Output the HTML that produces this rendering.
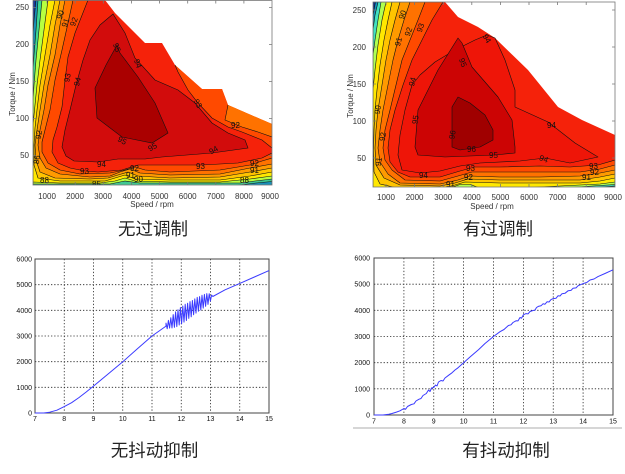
<!DOCTYPE html>
<html><head><meta charset="utf-8"><style>
html,body{margin:0;padding:0;background:#fff;}
body{width:625px;height:474px;overflow:hidden;}
svg{display:block;}
</style></head><body>
<svg width="625" height="474" viewBox="0 0 625 474" xmlns="http://www.w3.org/2000/svg" font-family="'Liberation Sans', sans-serif">
<rect width="625" height="474" fill="#fff"/>
<defs>
<clipPath id="cTL"><rect x="33" y="0" width="239" height="185"/></clipPath>
<clipPath id="cTR"><rect x="373" y="2" width="242" height="185"/></clipPath>
</defs>

<!-- ================= TOP LEFT CONTOUR ================= -->
<g clip-path="url(#cTL)">
<polygon fill="#f5220a" points="33,0 105,0 115,13 145,43 162,43 175,65 202,89 222,89 228,105 258,118 272,124 272,185 33,185"/>
<g stroke="#111" stroke-width="0.6" stroke-linejoin="round">
<polygon fill="#ff4a00" points="33,0 88,0 75,33 68,57 65,80 62,107 57,127 53,140 52,152 58,163 70,168 85,171 98,172 122,170 138,165 165,165 202,165 238,163 262,158 272,153 272,186 33,186 33,0"/>
<polygon fill="#ff7200" points="33,0 73,0 68,23 62,50 55,80 50,110 45,130 42,142 42,152 48,163 60,170 80,174 110,173 125,170 135,167 145,170 170,172 220,170 250,165 262,161 272,158 272,186 33,186"/>
<polygon fill="#ff9a00" points="33,0 65,0 60,25 55,55 48,85 44,110 40,130 38,145 40,158 46,168 60,174 90,177 110,176 120,172 130,169 140,173 170,175 220,174 250,168 272,164 272,186 33,186"/>
<polygon fill="#ffc400" points="33,0 60,0 55,25 50,55 44,85 40,110 37,130 35,145 36,160 40,172 55,178 90,179 108,178 118,175 128,172 138,176 170,178 220,177 250,172 272,168 272,186 33,186"/>
<polygon fill="#ffe800" points="33,0 55,0 50,25 45,55 40,85 37,110 35,128 34,145 34,165 38,178 60,181 105,181 115,178 125,175 135,179 170,180 220,180 250,176 272,172 272,186 33,186"/>
<polygon fill="#b8ff40" points="33,0 48,0 44,30 40,60 37,85 35,105 33,125"/>
<polygon fill="#b8ff40" points="33,186 33,182 60,183 100,183 115,181 125,178 135,181 170,182 220,182 250,179 272,176 272,186"/>
<polygon fill="#40d890" points="33,0 42,0 39,30 36,60 34,85 33,100"/>
<polygon fill="#40c890" points="33,186 33,184 110,184 125,181 140,183 240,183 255,181 272,179 272,186"/>
<polygon fill="#1890b8" points="33,0 38,0 36,30 34,55 33,70"/>
<polygon fill="#1890b8" points="232,186 244,184.5 256,183 272,181.5 272,186"/>
<polygon fill="#1838a0" points="33,0 36,0 34,20 33,35"/>
</g>
<polygon fill="#ff4a00" points="175,65 202,89 222,89 228,105 258,118 272,124 272,148 262,140 242,132 228,127 212,118 198,103 188,90 178,72"/>
<polygon fill="#ff7200" points="228,105 258,118 272,124 272,137 258,132 242,127 225,120"/>
<polyline fill="none" stroke="#111" stroke-width="0.6" points="175,65 178,72 188,90 198,103 212,118 228,127 242,132 262,140 272,148"/>
<polyline fill="none" stroke="#111" stroke-width="0.6" points="228,105 225,120 242,127 258,132 272,137"/>
<polygon fill="#d20c0c" stroke="#111" stroke-width="0.6" points="113,14 100,25 90,40 83,60 76,85 70,110 65,130 62,147 66,156 74,161 98,162 118,159 145,159 162,157 212,153 248,148 245,140 228,133 212,123 195,103 178,90 155,80 135,58 125,33"/>
<polygon fill="#aa0000" stroke="#111" stroke-width="0.6" points="117,45 106,65 95,88 97,118 122,137 152,143 168,133 155,103 138,77 120,53"/>
<g font-size="8" fill="#111">
<text x="56" y="18" transform="rotate(-70 60 15)">90</text>
<text x="61" y="26" transform="rotate(-70 65 23)">91</text>
<text x="70" y="26" transform="rotate(-70 73 23)">92</text>
<text x="63" y="81" transform="rotate(-80 67 78)">93</text>
<text x="73" y="85" transform="rotate(-75 77 82)">94</text>
<text x="113" y="50" transform="rotate(70 117 47)">95</text>
<text x="134" y="66" transform="rotate(70 138 63)">94</text>
<text x="194" y="106" transform="rotate(60 198 103)">93</text>
<text x="231" y="128">92</text>
<text x="118" y="143" transform="rotate(30 122 140)">95</text>
<text x="148" y="150" transform="rotate(-30 152 147)">95</text>
<text x="97" y="167">94</text>
<text x="80" y="174">93</text>
<text x="209" y="153" transform="rotate(-30 213 150)">94</text>
<text x="196" y="169">93</text>
<text x="130" y="171">92</text>
<text x="126" y="178">91</text>
<text x="134" y="182">90</text>
<text x="250" y="166">92</text>
<text x="250" y="173">91</text>
<text x="34" y="165" transform="rotate(-80 36 162)">86</text>
<text x="36" y="140" transform="rotate(-80 38 137)">92</text>
<text x="40" y="183">88</text>
<text x="92" y="187">85</text>
<text x="240" y="183">88</text>
</g>
</g>
<!-- TL axes -->
<g stroke="#777" stroke-width="0.8" fill="none">
<rect x="33" y="0.5" width="239" height="184.5"/>
<path d="M47.1,185v-3M75.2,185v-3M103.3,185v-3M131.5,185v-3M159.6,185v-3M187.7,185v-3M215.8,185v-3M243.9,185v-3M47.1,0.5v3M75.2,0.5v3M103.3,0.5v3M131.5,0.5v3M159.6,0.5v3M187.7,0.5v3M215.8,0.5v3M243.9,0.5v3M33,7.4h3M33,44.4h3M33,81.4h3M33,118.4h3M33,155.4h3M272,7.4h-3M272,44.4h-3M272,81.4h-3M272,118.4h-3M272,155.4h-3"/>
</g>
<g font-size="8" fill="#333" text-anchor="end">
<text x="29" y="10.2">250</text><text x="29" y="47.2">200</text><text x="29" y="84.2">150</text><text x="29" y="121.2">100</text><text x="29" y="158.2">50</text>
</g>
<g font-size="8" fill="#333" text-anchor="middle">
<text x="47" y="199">1000</text><text x="75" y="199">2000</text><text x="103" y="199">3000</text><text x="131.5" y="199">4000</text><text x="159.6" y="199">5000</text><text x="187.7" y="199">6000</text><text x="215.8" y="199">7000</text><text x="243.9" y="199">8000</text><text x="270" y="199">9000</text>
<text x="152" y="207">Speed  / rpm</text>
<text transform="translate(15,94) rotate(-90)">Torque / Nm</text>
</g>

<!-- ================= TOP RIGHT CONTOUR ================= -->
<g clip-path="url(#cTR)">
<polygon fill="#f5220a" points="373,2 445,2 458,17 478,27 495,38 528,70 558,107 582,120 615,135 615,187 373,187"/>
<g stroke="#111" stroke-width="0.6" stroke-linejoin="round">
<polygon fill="#ff4a00" points="373,2 443,2 432,20 422,40 412,60 403,85 395,110 390,130 388,148 390,162 398,172 410,177 440,177 460,171 475,167 500,167 540,166 570,167 598,165 615,160 615,188 373,188"/>
<polygon fill="#ff7200" points="373,2 425,2 418,20 410,40 402,60 396,85 390,110 385,130 383,148 385,160 392,170 405,180 440,181 458,176 472,172 500,172 540,172 580,172 600,169 615,165 615,188 373,188"/>
<polygon fill="#ff9a00" points="373,2 410,2 404,20 398,40 393,60 388,85 383,110 380,130 378,148 380,162 388,174 400,183 440,184 458,180 470,176 500,177 540,177 580,176 600,173 615,170 615,188 373,188"/>
<polygon fill="#ffc400" points="373,2 400,2 395,20 390,40 386,60 382,85 378,110 376,130 375,148 376,165 384,178 400,185 440,186 455,183 468,179 500,180 540,180 580,180 600,177 615,174 615,188 373,188"/>
<polygon fill="#ffe800" points="373,2 392,2 388,20 384,40 380,65 377,90 375,110 374,130 373.5,150 374,172 380,184 395,187.5 445,187.5 455,185 465,182 500,183 540,183 580,183 600,181 615,178 615,188 373,188"/>
<polygon fill="#b0ff50" points="373,2 386,2 382,20 378,45 375,70 373,90"/>
<polygon fill="#b0ff50" points="520,188 560,186 580,185 600,184 615,182 615,188"/>
<polygon fill="#b0ff50" points="450,188 460,184.5 470,184.5 480,188"/>
<polygon fill="#40e0c0" points="373,2 381,2 378,20 375,40 373,55"/>
<polygon fill="#40d0b0" points="565,188 585,186.5 600,185.5 615,184.5 615,188"/>
<polygon fill="#1090c0" points="373,2 378,2 375,15 373,30"/>
<polygon fill="#1080b0" points="590,188 605,186.8 615,186 615,188"/>
<polygon fill="#103090" points="373,2 375.5,2 374,10 373,16"/>
<polygon fill="#ee1508" points="487,35 475,40 455,50 435,62 420,75 412,85 405,110 400,135 398,155 402,170 420,173 440,171 460,166 480,163 520,161 545,158 570,163 598,157 575,143 548,122 515,107 515,90 505,60 495,38"/>
<polygon fill="#cc0404" points="458,38 438,70 418,110 415,147 418,155 445,157 495,155 515,153 515,147 512,120 498,97 472,67 462,43"/>
<polygon fill="#a00000" points="458,97 452,107 452,147 460,150 480,147 493,140 493,130 485,115 470,103"/>
</g>
<g font-size="8" fill="#111">
<text x="398" y="18" transform="rotate(-70 402 15)">90</text>
<text x="404" y="35" transform="rotate(-70 408 32)">92</text>
<text x="416" y="31" transform="rotate(-70 420 28)">93</text>
<text x="394" y="45" transform="rotate(-75 398 42)">91</text>
<text x="408" y="85" transform="rotate(-75 412 82)">94</text>
<text x="411" y="123" transform="rotate(-80 415 120)">95</text>
<text x="459" y="65" transform="rotate(70 463 62)">95</text>
<text x="483" y="41" transform="rotate(60 487 38)">94</text>
<text x="448" y="138" transform="rotate(-80 452 135)">96</text>
<text x="467" y="152">96</text>
<text x="489" y="158">95</text>
<text x="547" y="128">94</text>
<text x="539" y="162" transform="rotate(20 545 160)">94</text>
<text x="419" y="178">94</text>
<text x="466" y="171">93</text>
<text x="589" y="169">93</text>
<text x="464" y="180">92</text>
<text x="590" y="175">92</text>
<text x="582" y="180">91</text>
<text x="446" y="187">91</text>
<text x="376" y="167" transform="rotate(-80 378 164)">91</text>
<text x="380" y="142" transform="rotate(-80 382 139)">92</text>
<text x="375" y="115" transform="rotate(-80 377 112)">90</text>
</g>
</g>
<!-- TR axes -->
<g stroke="#777" stroke-width="0.8" fill="none">
<rect x="373" y="2" width="242" height="185"/>
<path d="M386,187v-3M414.6,187v-3M443.2,187v-3M471.8,187v-3M500.4,187v-3M529,187v-3M557.6,187v-3M586.2,187v-3M386,2v3M414.6,2v3M443.2,2v3M471.8,2v3M500.4,2v3M529,2v3M557.6,2v3M586.2,2v3M373,10h3M373,47h3M373,84h3M373,121h3M373,158h3M615,10h-3M615,47h-3M615,84h-3M615,121h-3M615,158h-3"/>
</g>
<g font-size="8" fill="#333" text-anchor="end">
<text x="366" y="12.8">250</text><text x="366" y="49.8">200</text><text x="366" y="86.8">150</text><text x="366" y="123.8">100</text><text x="366" y="160.8">50</text>
</g>
<g font-size="8" fill="#333" text-anchor="middle">
<text x="386" y="200">1000</text><text x="414.6" y="200">2000</text><text x="443.2" y="200">3000</text><text x="471.8" y="200">4000</text><text x="500.4" y="200">5000</text><text x="529" y="200">6000</text><text x="557.6" y="200">7000</text><text x="586.2" y="200">8000</text><text x="613" y="200">9000</text>
<text x="492" y="209">Speed  / rpm</text>
<text transform="translate(353,96) rotate(-90)">Torque / Nm</text>
</g>

<!-- Titles -->
<g font-family="'Liberation Sans','Noto Sans CJK SC',sans-serif" font-size="17.5" fill="#222" text-anchor="middle">
<text x="153" y="235">无过调制</text>
<text x="498" y="235">有过调制</text>
<text x="154.5" y="456.5">无抖动抑制</text>
<text x="506" y="456.5">有抖动抑制</text>
</g>

<!-- ================= BOTTOM LEFT LINE ================= -->
<g stroke="#222" stroke-width="0.8" stroke-dasharray="1.3,1.9" fill="none">
<path d="M64.25,259V413M93.5,259V413M122.75,259V413M152,259V413M181.25,259V413M210.5,259V413M239.75,259V413M35,284.7H269M35,310.3H269M35,336H269M35,361.7H269M35,387.3H269"/>
</g>
<rect x="35" y="259" width="234" height="154" fill="none" stroke="#444" stroke-width="1"/>
<polyline fill="none" stroke="#3a3aff" stroke-width="1" stroke-linejoin="round" points="35,413 43.8,413 49.6,412.2 56.9,410.2 64.3,406.6 71.6,402.7 78.9,397.6 86.2,392 93.5,386.1 108.1,374 122.8,361.7 137.4,348.8 152,336 159.3,330.9 166,326.1 166,323.1 167.2,328.8 168.4,320.4 169.6,328.1 170.8,317.8 172,327.9 173.2,314.6 174.4,327.3 175.6,311.9 176.8,326.6 178,309.8 179.2,325 180.4,307.6 181.6,323.8 182.8,306 184,322.1 185.2,304.3 186.4,320.5 187.6,303.2 188.8,318.4 190,301.6 191.2,316.8 192.4,300.5 193.6,314.7 194.8,298.9 196,313.1 197.2,297.4 198.4,311.2 199.6,296.6 200.8,309.9 202,295.3 203.2,308.1 204.4,294.4 205.6,306.3 206.8,293.6 208,304.4 209.2,293.7 210.4,301.1 211.6,295 212.8,296.5 225.1,289.8 239.8,283.4 254.4,277 269,270.6"/>
<g font-size="7" fill="#111" text-anchor="end">
<text x="32" y="261.5">6000</text><text x="32" y="287.2">5000</text><text x="32" y="312.8">4000</text><text x="32" y="338.5">3000</text><text x="32" y="364.2">2000</text><text x="32" y="389.8">1000</text><text x="32" y="415.5">0</text>
</g>
<g font-size="7" fill="#111" text-anchor="middle">
<text x="35" y="421">7</text><text x="64.25" y="421">8</text><text x="93.5" y="421">9</text><text x="122.75" y="421">10</text><text x="152" y="421">11</text><text x="181.25" y="421">12</text><text x="210.5" y="421">13</text><text x="239.75" y="421">14</text><text x="269" y="421">15</text>
</g>

<!-- ================= BOTTOM RIGHT LINE ================= -->
<g stroke="#222" stroke-width="0.8" stroke-dasharray="1.3,1.9" fill="none">
<path d="M403.9,258V415M433.75,258V415M463.6,258V415M493.5,258V415M523.4,258V415M553.25,258V415M583.1,258V415M374,284.2H613M374,310.3H613M374,336.5H613M374,362.7H613M374,388.8H613"/>
</g>
<rect x="374" y="258" width="239" height="157" fill="none" stroke="#444" stroke-width="1"/>
<polyline fill="none" stroke="#3a3aff" stroke-width="1" stroke-linejoin="round" points="374,415 383,415 388.9,414.2 392,413.5 396.4,412.1 400,410.8 403.9,408.5 405.5,409.3 407.5,406.5 411.3,404.5 414,403.8 416,401 418.8,399.3 421,398.5 423,395.5 426.3,393.5 428.5,390 430,391.5 431.5,388 433.8,387.5 435.5,385 437,386 438.5,382 441,380.5 443,381 445,378 448.7,375.2 452,372.8 455,370 458,367.8 463.6,362.7 470,357 478.6,349.6 485,343.5 493.5,336.5 500,331.7 504,329.5 508.4,325.5 511,324.8 513,322.5 516,320.8 518,320.9 520,317.5 521.5,318.2 523.4,314.8 526,313.6 528,313.9 530,311.5 533,310.5 535,310.1 536.5,307.5 538.3,306.4 541,305.8 543,303.8 545,304.2 547,301.8 549,302 551,299.6 553.2,298.6 556,298.3 558,295.8 560,296 562,293.7 565,293.3 568.2,290.7 571,290.4 573,288.3 576,287.9 578,285.8 583.1,283.6 587,282.3 590,280 594,279 598,276.6 605,273.5 613,269.8"/>
<g font-size="7" fill="#111" text-anchor="end">
<text x="370" y="260.5">6000</text><text x="370" y="286.7">5000</text><text x="370" y="312.8">4000</text><text x="370" y="339">3000</text><text x="370" y="365.2">2000</text><text x="370" y="391.3">1000</text><text x="370" y="417.5">0</text>
</g>
<g font-size="7" fill="#111" text-anchor="middle">
<text x="374" y="423.5">7</text><text x="403.9" y="423.5">8</text><text x="433.75" y="423.5">9</text><text x="463.6" y="423.5">10</text><text x="493.5" y="423.5">11</text><text x="523.4" y="423.5">12</text><text x="553.25" y="423.5">13</text><text x="583.1" y="423.5">14</text><text x="613" y="423.5">15</text>
</g>
<line x1="353" y1="428" x2="622" y2="428" stroke="#c8c8c8" stroke-width="1.5"/>
</svg>
</body></html>
